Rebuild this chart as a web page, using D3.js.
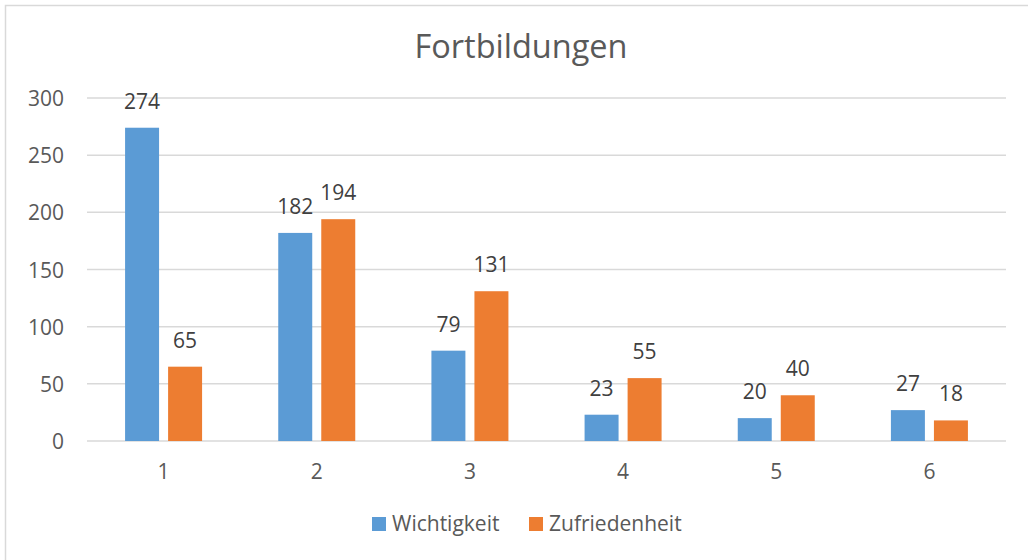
<!DOCTYPE html>
<html>
<head>
<meta charset="utf-8">
<script src="https://cdn.jsdelivr.net/npm/d3@7"></script>
<style>
  body { margin: 0; background: #fff; }
  svg { display: block; font-family: "Open Sans", sans-serif; }
</style>
</head>
<body>
<div id="chart"></div>
<script>
// data
const categories = ['1', '2', '3', '4', '5', '6']
const seriesNames = ['Wichtigkeit', 'Zufriedenheit']
const wichtigkeit = [274, 182, 79, 23, 20, 27]
const zufriedenheit = [65, 194, 131, 55, 40, 18]
const yTicks = [0, 50, 100, 150, 200, 250, 300]
const colors = ['#5b9bd5', '#ed7d31']

const w = 1028, h = 560
const plot = { left: 87, right: 1006, top: 98, bottom: 441 }

const svg = d3.select('#chart').append('svg')
  .attr('width', w)
  .attr('height', h)

// chart frame (only top/left edges fall inside the picture)
svg.append('rect')
  .attr('x', 5.5).attr('y', 5.5)
  .attr('width', 1100).attr('height', 700)
  .attr('fill', 'none')
  .attr('stroke', '#d9d9d9')
  .attr('stroke-width', 1.5)

const x0 = d3.scaleBand()
  .domain(categories)
  .range([plot.left, plot.right])
const x1 = d3.scaleBand()
  .domain(seriesNames)
  .range([-38.5, 38.5])
  .paddingInner(0.21)
const y = d3.scaleLinear()
  .domain([0, 300])
  .range([plot.bottom, plot.top])

// gridlines
svg.append('g')
  .selectAll('line')
  .data(yTicks)
  .enter()
  .append('line')
  .attr('x1', plot.left)
  .attr('x2', plot.right)
  .attr('y1', d => y(d))
  .attr('y2', d => y(d))
  .attr('stroke', '#d9d9d9')
  .attr('stroke-width', 1.5)

// y tick labels
svg.append('g')
  .selectAll('text')
  .data(yTicks)
  .enter()
  .append('text')
  .attr('x', 64)
  .attr('y', d => y(d) + 8)
  .attr('text-anchor', 'end')
  .attr('font-size', '21px')
  .attr('fill', '#595959')
  .text(d => d)

// x tick labels
svg.append('g')
  .selectAll('text')
  .data(categories)
  .enter()
  .append('text')
  .attr('x', d => x0(d) + x0.bandwidth() / 2)
  .attr('y', 479)
  .attr('text-anchor', 'middle')
  .attr('font-size', '21px')
  .attr('fill', '#595959')
  .text(d => d)

const data = categories.map((c, i) => ({
  cat: c,
  values: [
    { name: seriesNames[0], value: wichtigkeit[i], color: colors[0] },
    { name: seriesNames[1], value: zufriedenheit[i], color: colors[1] },
  ]
}))

const groups = svg.append('g')
  .selectAll('g')
  .data(data)
  .enter()
  .append('g')
  .attr('transform', d => `translate(${x0(d.cat) + x0.bandwidth() / 2},0)`)

const bars = groups.selectAll('.bar')
  .data(d => d.values)
  .enter()

bars.append('rect')
  .attr('x', d => x1(d.name))
  .attr('y', d => y(d.value))
  .attr('width', x1.bandwidth())
  .attr('height', d => y(0) - y(d.value))
  .attr('fill', d => d.color)

bars.append('text')
  .attr('x', d => x1(d.name) + x1.bandwidth() / 2)
  .attr('y', d => y(d.value) - 19)
  .attr('text-anchor', 'middle')
  .attr('font-size', '21px')
  .attr('fill', '#404040')
  .text(d => d.value)

// title
svg.append('text')
  .attr('x', 521)
  .attr('y', 58)
  .attr('text-anchor', 'middle')
  .attr('font-size', '32.5px')
  .attr('fill', '#595959')
  .text('Fortbildungen')

// legend
const legendX = [372, 529]
const legend = svg.append('g')
  .selectAll('g')
  .data(seriesNames)
  .enter()
  .append('g')
  .attr('transform', (d, i) => `translate(${legendX[i]},517)`)
legend.append('rect')
  .attr('width', 14)
  .attr('height', 14)
  .attr('fill', (d, i) => colors[i])
legend.append('text')
  .attr('x', 20)
  .attr('y', 14)
  .attr('font-size', '21px')
  .attr('fill', '#595959')
  .text(d => d)
</script>
</body>
</html>
